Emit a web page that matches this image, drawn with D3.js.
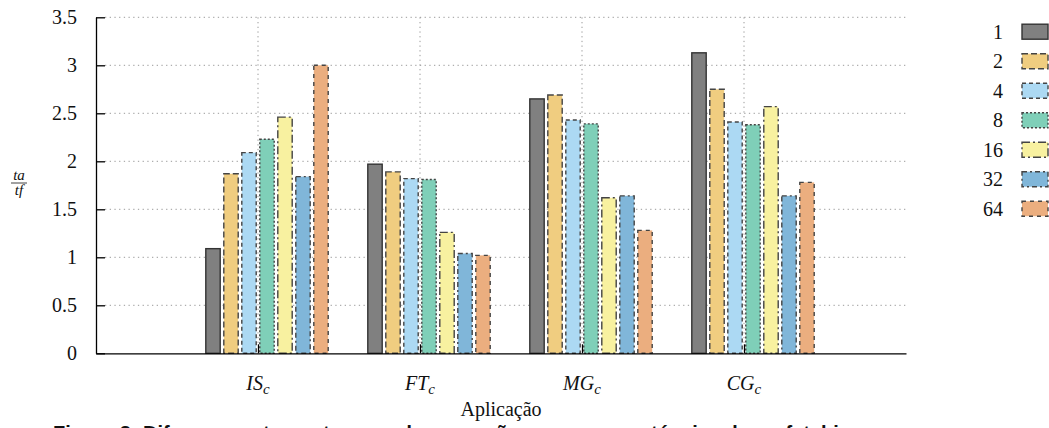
<!DOCTYPE html>
<html>
<head>
<meta charset="utf-8">
<script src="https://cdn.jsdelivr.net/npm/d3@7"></script>
<style>
  body { margin: 0; background: #fff; }
  svg { display: block; }
  .serif { font-family: "Liberation Serif", "DejaVu Serif", "Noto Serif", "Times New Roman", Times, serif; }
  .caption { font-family: "Liberation Sans", Arial, sans-serif; font-weight: bold; }
</style>
</head>
<body>
<div id="chart"></div>
<script>
// categories (applications) and thread counts
const apps = ["IS", "FT", "MG", "CG"];
const threads = ["1", "2", "4", "8", "16", "32", "64"];

// ta/tf per thread count, one value per application
const t1 = [1.09, 1.97, 2.65, 3.13];
const t2 = [1.87, 1.89, 2.69, 2.75];
const t4 = [2.09, 1.82, 2.43, 2.41];
const t8 = [2.23, 1.81, 2.39, 2.38];
const t16 = [2.46, 1.26, 1.62, 2.57];
const t32 = [1.84, 1.04, 1.64, 1.64];
const t64 = [3.00, 1.02, 1.28, 1.78];

const yTicks = [0, 0.5, 1, 1.5, 2, 2.5, 3, 3.5];

const series = [t1, t2, t4, t8, t16, t32, t64];
const fills = ["#808080", "#f0cd80", "#acd9f3", "#7fcfb8", "#f8f1a0", "#80b6d9", "#ebae7f"];
const dashes = [null, "6,3", "4,3", "2,2", "8,3,2,3", "5,3,2,3", "4,4"];

const width = 1049, height = 428;

const svg = d3.select("#chart").append("svg")
    .attr("width", width)
    .attr("height", height);

const x = d3.scaleLinear().domain([-1, 4]).range([96, 906]);
const y = d3.scaleLinear().domain([0, 3.5]).range([353.3, 17.3]);

// grid
let grid = svg.append("g")
    .attr("stroke", "#9a9a9a")
    .attr("stroke-width", 1)
    .attr("stroke-dasharray", "1.3,3.4");

grid.selectAll(".hg").data(yTicks.filter(d => d > 0))
    .enter().append("line")
    .attr("x1", x(-1) + 9).attr("x2", x(4))
    .attr("y1", d => y(d)).attr("y2", d => y(d));

grid.selectAll(".vg").data(d3.range(apps.length))
    .enter().append("line")
    .attr("x1", d => x(d)).attr("x2", d => x(d))
    .attr("y1", y(3.5)).attr("y2", y(0) - 9);

// bars
const slot = 1 / 9;
const barW = x(0.8 * slot) - x(0);

series.forEach(function(vals, j) {
    svg.append("g").selectAll("rect").data(vals)
        .enter().append("rect")
        .attr("x", (d, i) => x(i + (j - 2.5) * slot) - barW / 2)
        .attr("y", d => y(d))
        .attr("width", barW)
        .attr("height", d => y(0) - y(d))
        .attr("fill", fills[j])
        .attr("stroke", j == 0 ? "#333" : "#444")
        .attr("stroke-width", 1.4)
        .attr("stroke-dasharray", dashes[j]);
});

// axes
let yAxis = svg.append("g")
    .attr("transform", `translate(${x(-1)},0)`)
    .call(d3.axisLeft(y).tickValues(yTicks).tickSize(-9).tickSizeOuter(0).tickPadding(19)
        .tickFormat(d => d));

yAxis.attr("font-family", null).attr("font-size", null);
yAxis.selectAll("text")
    .attr("class", "serif")
    .style("font-size", "20px")
    .attr("fill", "#111");
yAxis.selectAll("line, path").attr("stroke", "#000").attr("stroke-width", 1.3);

let xAxis = svg.append("g")
    .attr("transform", `translate(0,${y(0)})`)
    .call(d3.axisBottom(x).tickValues(d3.range(apps.length)).tickSize(-9).tickSizeOuter(0)
        .tickFormat(""));
xAxis.selectAll("line, path").attr("stroke", "#000").attr("stroke-width", 1.3);

let xLabels = svg.append("g").selectAll("text").data(apps)
    .enter().append("text")
    .attr("class", "serif")
    .attr("x", (d, i) => x(i))
    .attr("y", 390)
    .attr("text-anchor", "middle")
    .style("font-size", "20px")
    .style("font-style", "italic")
    .attr("fill", "#111");
xLabels.append("tspan").text(d => d);
xLabels.append("tspan").style("font-size", "15px").attr("dy", 4).text("c");

// axis titles
svg.append("text")
    .attr("class", "serif")
    .attr("x", (x(-1) + x(4)) / 2)
    .attr("y", 416)
    .attr("text-anchor", "middle")
    .style("font-size", "20px")
    .attr("fill", "#111")
    .text("Aplicação");

let frac = svg.append("g").attr("transform", "translate(19,183)")
    .attr("fill", "#111").attr("text-anchor", "middle");
frac.append("text").attr("class", "serif").attr("y", -3)
    .style("font-size", "15px").style("font-style", "italic").text("ta");
frac.append("line").attr("x1", -8).attr("x2", 8).attr("stroke", "#111").attr("stroke-width", 0.8);
frac.append("text").attr("class", "serif").attr("y", 12)
    .style("font-size", "15px").style("font-style", "italic").text("tf");

// legend
let legend = svg.append("g").selectAll("g").data(threads)
    .enter().append("g")
    .attr("transform", (d, i) => `translate(0,${31.7 + i * 29.5})`);

legend.append("text")
    .attr("class", "serif")
    .attr("x", 1003)
    .attr("dy", "0.35em")
    .attr("text-anchor", "end")
    .style("font-size", "20px")
    .attr("fill", "#111")
    .text(d => d);

legend.append("rect")
    .attr("x", 1022).attr("y", -7.5)
    .attr("width", 26).attr("height", 15)
    .attr("fill", (d, i) => fills[i])
    .attr("stroke", (d, i) => i == 0 ? "#333" : "#444")
    .attr("stroke-width", 1.4)
    .attr("stroke-dasharray", (d, i) => dashes[i]);

// caption, cut by the page edge as in the source
svg.append("text")
    .attr("class", "caption")
    .attr("x", 53)
    .attr("y", 440)
    .style("font-size", "20px")
    .attr("fill", "#111")
    .text("Figura 2: Diferença entre os tempos de execução com e sem a técnica de prefetching");
</script>
</body>
</html>
